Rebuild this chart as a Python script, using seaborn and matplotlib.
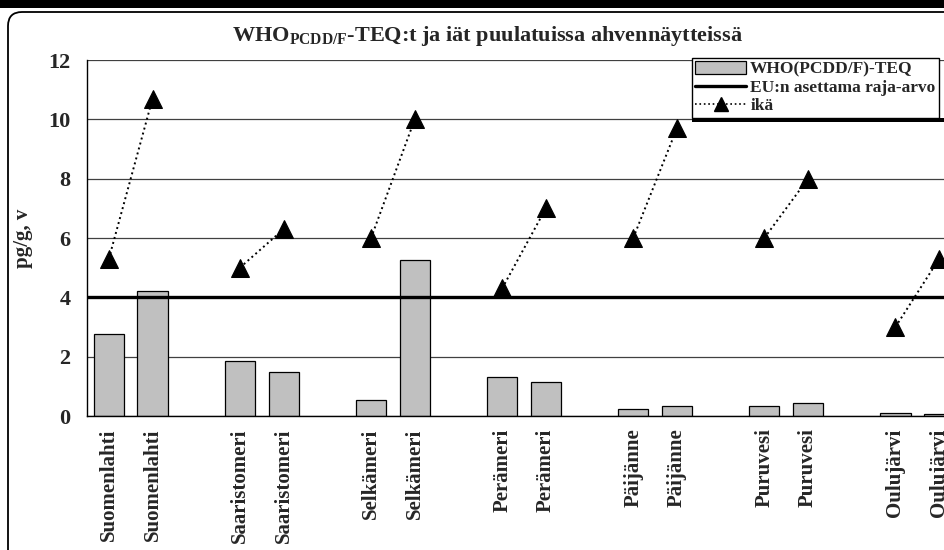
import numpy as np
import pandas as pd
import matplotlib as mpl
import matplotlib.pyplot as plt
import seaborn as sns
from matplotlib.patches import Patch, FancyBboxPatch, Rectangle
from matplotlib.lines import Line2D
from matplotlib.transforms import IdentityTransform

# slot labels (empty string = gap between sites)
labels = ["Suomenlahti", "Suomenlahti", "", "Saaristomeri", "Saaristomeri", "",
          "Selkämeri", "Selkämeri", "", "Perämeri", "Perämeri", "",
          "Päijänne", "Päijänne", "", "Puruvesi", "Puruvesi", "",
          "Oulujärvi", "Oulujärvi"]
teq = [2.75, 4.2, np.nan, 1.85, 1.5, np.nan, 0.55, 5.25, np.nan, 1.3, 1.15, np.nan,
       0.22, 0.33, np.nan, 0.33, 0.45, np.nan, 0.1, 0.07]
age = [5.3, 10.7, np.nan, 5.0, 6.3, np.nan, 6.0, 10.0, np.nan, 4.3, 7.0, np.nan,
       6.0, 9.7, np.nan, 6.0, 8.0, np.nan, 3.0, 5.3]
eu_limit = 4

sns.set_style("white")
plt.rcParams['font.family'] = ['Liberation Serif', 'DejaVu Serif']
plt.rcParams['font.weight'] = 'bold'
plt.rcParams['mathtext.fontset'] = 'custom'
plt.rcParams['mathtext.rm'] = 'Liberation Serif:bold'
plt.rcParams['mathtext.bf'] = 'Liberation Serif:bold'

df = pd.DataFrame({"slot": range(len(labels)), "label": labels, "teq": teq, "age": age})
df["site"] = df["label"].where(df["label"] != "", "gap")

fig = plt.figure(figsize=(9.45, 5.5), dpi=100)
ax = fig.add_axes([87 / 945, 134 / 550, 874 / 945, 356 / 550])

sns.barplot(data=df.dropna(subset=["teq"]), x="slot", y="teq", order=list(range(len(labels))),
            color="#C0C0C0", saturation=1, edgecolor="black", linewidth=0.9, width=0.69, ax=ax)
ax.axhline(eu_limit, color="black", lw=2.4, zorder=3)
sns.lineplot(data=df.dropna(subset=["age"]), x="slot", y="age", units="site", estimator=None,
             color="black", linestyle=":", lw=1.4, marker="^", markersize=12.5,
             markeredgecolor="black", ax=ax, zorder=4)

ax.set_xlim(-0.5, len(labels) - 0.5)
ax.set_ylim(0, 12)
ax.set_yticks(range(0, 13, 2))
ax.yaxis.grid(True, color="#404040", lw=0.9)
ax.set_axisbelow(True)
for s in ["top", "right"]:
    ax.spines[s].set_visible(False)
for s in ["left", "bottom"]:
    ax.spines[s].set_color("black")
    ax.spines[s].set_linewidth(1.0)

ax.set_xticks(range(len(labels)))
ax.set_xticklabels(labels, rotation=90, fontsize=15, fontweight="bold", va="top")
ax.tick_params(axis="x", which="major", length=0, pad=9)
ax.set_xticks(np.arange(-0.5, len(labels), 1), minor=True)
ax.tick_params(axis="x", which="minor", length=5, width=1, color="black", direction="out")
ax.tick_params(axis="y", length=5, width=1, color="black", direction="out", pad=7, labelsize=16)
for t in ax.get_yticklabels():
    t.set_fontweight("bold")

ax.set_xlabel("")
ax.set_ylabel("pg/g, v", fontsize=15, fontweight="bold")
ax.yaxis.set_label_coords(-0.062, 0.5)

fig.text(487 / 945, 1 - 36 / 550, r"WHO$_{\mathrm{PCDD/F}}$-TEQ:t ja iät puulatuissa ahvennäytteissä",
         ha="center", va="center", fontsize=16, fontweight="bold")

handles = [Patch(facecolor="#C0C0C0", edgecolor="black", lw=0.9),
           Line2D([], [], color="black", lw=2.4),
           Line2D([], [], color="black", lw=1.2, linestyle=":", marker="^", markersize=10)]
leg = fig.legend(handles, ["WHO(PCDD/F)-TEQ", "EU:n asettama raja-arvo", "ikä"],
                 loc="upper left", bbox_to_anchor=(692 / 945, 1 - 58 / 550),
                 frameon=True, fancybox=False, edgecolor="black", framealpha=1,
                 fontsize=12.5, handlelength=2.9, handletextpad=0.25, labelspacing=0.12,
                 borderpad=0.2, borderaxespad=0)
leg.get_frame().set_linewidth(1.0)
for t in leg.get_texts():
    t.set_fontweight("bold")

# chart frame, top band and legend shadow in pixel coordinates
fig.patches.append(FancyBboxPatch((8, -20), 980, 558, boxstyle="round,pad=0,rounding_size=14",
                                  transform=IdentityTransform(), fill=False, edgecolor="black",
                                  lw=1.3, figure=fig))
fig.patches.append(Rectangle((0, 542), 945, 8, transform=IdentityTransform(),
                             facecolor="black", edgecolor="none", figure=fig))
fig.patches.append(Rectangle((692, 428), 260, 4, transform=IdentityTransform(),
                             facecolor="black", edgecolor="none", figure=fig))

fig.savefig("out.png", dpi=100)
